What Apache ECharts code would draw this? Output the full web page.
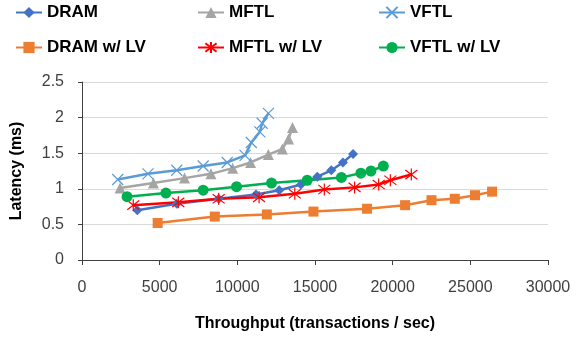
<!DOCTYPE html>
<html><head><meta charset="utf-8">
<script src="https://cdn.jsdelivr.net/npm/echarts@6/dist/echarts.min.js"></script>
<style>html,body{margin:0;padding:0;background:#fff}#c{width:583px;height:337px}</style>
</head><body><div id="c"></div><script>
const seriesNames = ['DRAM', 'MFTL', 'VFTL', 'DRAM w/ LV', 'MFTL w/ LV', 'VFTL w/ LV'];
const xTicks = [0, 5000, 10000, 15000, 20000, 25000, 30000];
const yTicks = [0, 0.5, 1, 1.5, 2, 2.5];

const dramX = [3560, 6100, 8800, 11200, 12700, 14100, 15150, 16050, 16800, 17450];
const dramY = [0.70, 0.79, 0.86, 0.92, 0.98, 1.06, 1.17, 1.26, 1.37, 1.49];

const mftlX = [2450, 4600, 6600, 8300, 9700, 10850, 12000, 12900, 13300, 13550];
const mftlY = [1.01, 1.08, 1.15, 1.21, 1.29, 1.37, 1.48, 1.56, 1.70, 1.86];

const vftlX = [2300, 4250, 6100, 7800, 9350, 10500, 10900, 11450, 11600, 12000];
const vftlY = [1.13, 1.21, 1.26, 1.32, 1.37, 1.47, 1.65, 1.80, 1.92, 2.06];

const dramLvX = [4870, 8550, 11900, 14900, 18350, 20800, 22500, 24000, 25300, 26400];
const dramLvY = [0.52, 0.61, 0.64, 0.68, 0.72, 0.77, 0.84, 0.86, 0.91, 0.96];

const mftlLvX = [3300, 6200, 8800, 11400, 13700, 15600, 17550, 19100, 19850, 21200];
const mftlLvY = [0.77, 0.81, 0.86, 0.88, 0.93, 0.99, 1.02, 1.06, 1.12, 1.20];

const vftlLvX = [2900, 5400, 7800, 9950, 12200, 14500, 16700, 17950, 18600, 19400];
const vftlLvY = [0.89, 0.94, 0.98, 1.03, 1.08, 1.12, 1.16, 1.22, 1.25, 1.32];

const pairs = (xs, ys) => xs.map((x, i) => [x, ys[i]]);
const FONT = 'Liberation Sans';
const crossPath = 'path://M0,0L10,10M10,0L0,10';
const starPath = 'path://M0,0L10,10M10,0L0,10M5,-1.5L5,11.5';

function mk(name, xs, ys, color, symbol, size, stroke) {
  return {
    name, type: 'line', data: pairs(xs, ys), symbol, symbolSize: size,
    showSymbol: true, animation: false,
    lineStyle: { color, width: 2.5 },
    itemStyle: { color, borderColor: color, borderWidth: stroke ? 1.2 : 0 },
    z: 2
  };
}

const chart = echarts.init(document.getElementById('c'), null, { renderer: 'canvas' });
const legendText = { fontFamily: FONT, fontWeight: 'bold', fontSize: 17, color: '#000' };
const legendCommon = { orient: 'vertical', itemWidth: 26, itemHeight: 14, itemGap: 18, top: 4, textStyle: legendText, padding: 0 };
chart.setOption({
  animation: false,
  backgroundColor: '#fff',
  legend: [
    Object.assign({ left: 15, data: ['DRAM', 'DRAM w/ LV'] }, legendCommon),
    Object.assign({ left: 197, data: ['MFTL', 'MFTL w/ LV'] }, legendCommon),
    Object.assign({ left: 378, data: ['VFTL', 'VFTL w/ LV'] }, legendCommon)
  ],
  grid: { left: 82, right: 35, top: 82, bottom: 75, containLabel: false },
  xAxis: {
    type: 'value', min: xTicks[0], max: xTicks[xTicks.length - 1], interval: 5000,
    name: 'Throughput (transactions / sec)', nameLocation: 'middle', nameGap: 56,
    nameTextStyle: { fontFamily: FONT, fontWeight: 'bold', fontSize: 16, color: '#000' },
    axisLine: { lineStyle: { color: '#404040', width: 1 } },
    axisTick: { show: true, length: 5, lineStyle: { color: '#404040' } },
    axisLabel: { fontFamily: FONT, fontSize: 16, color: '#404040', margin: 20, formatter: v => String(v) },
    splitLine: { show: false }
  },
  yAxis: {
    type: 'value', min: yTicks[0], max: yTicks[yTicks.length - 1], interval: 0.5,
    name: 'Latency (ms)', nameLocation: 'middle', nameGap: 57, nameRotate: 90,
    nameTextStyle: { fontFamily: FONT, fontWeight: 'bold', fontSize: 16, color: '#000' },
    axisLine: { show: true, lineStyle: { color: '#404040', width: 1 } },
    axisTick: { show: true, length: 4, lineStyle: { color: '#404040' } },
    axisLabel: { fontFamily: FONT, fontSize: 16, color: '#404040', margin: 18, formatter: v => String(v) },
    splitLine: { show: true, lineStyle: { color: '#D9D9D9', width: 1 } }
  },
  series: [
    mk('DRAM', dramX, dramY, '#4472C4', 'diamond', 10, false),
    mk('MFTL', mftlX, mftlY, '#A5A5A5', 'triangle', 11, false),
    mk('VFTL', vftlX, vftlY, '#5B9BD5', crossPath, 11, true),
    mk('DRAM w/ LV', dramLvX, dramLvY, '#ED7D31', 'rect', 10, false),
    mk('MFTL w/ LV', mftlLvX, mftlLvY, '#FF0000', starPath, 12, true),
    mk('VFTL w/ LV', vftlLvX, vftlLvY, '#00B050', 'circle', 11, false)
  ]
});
</script></body></html>
